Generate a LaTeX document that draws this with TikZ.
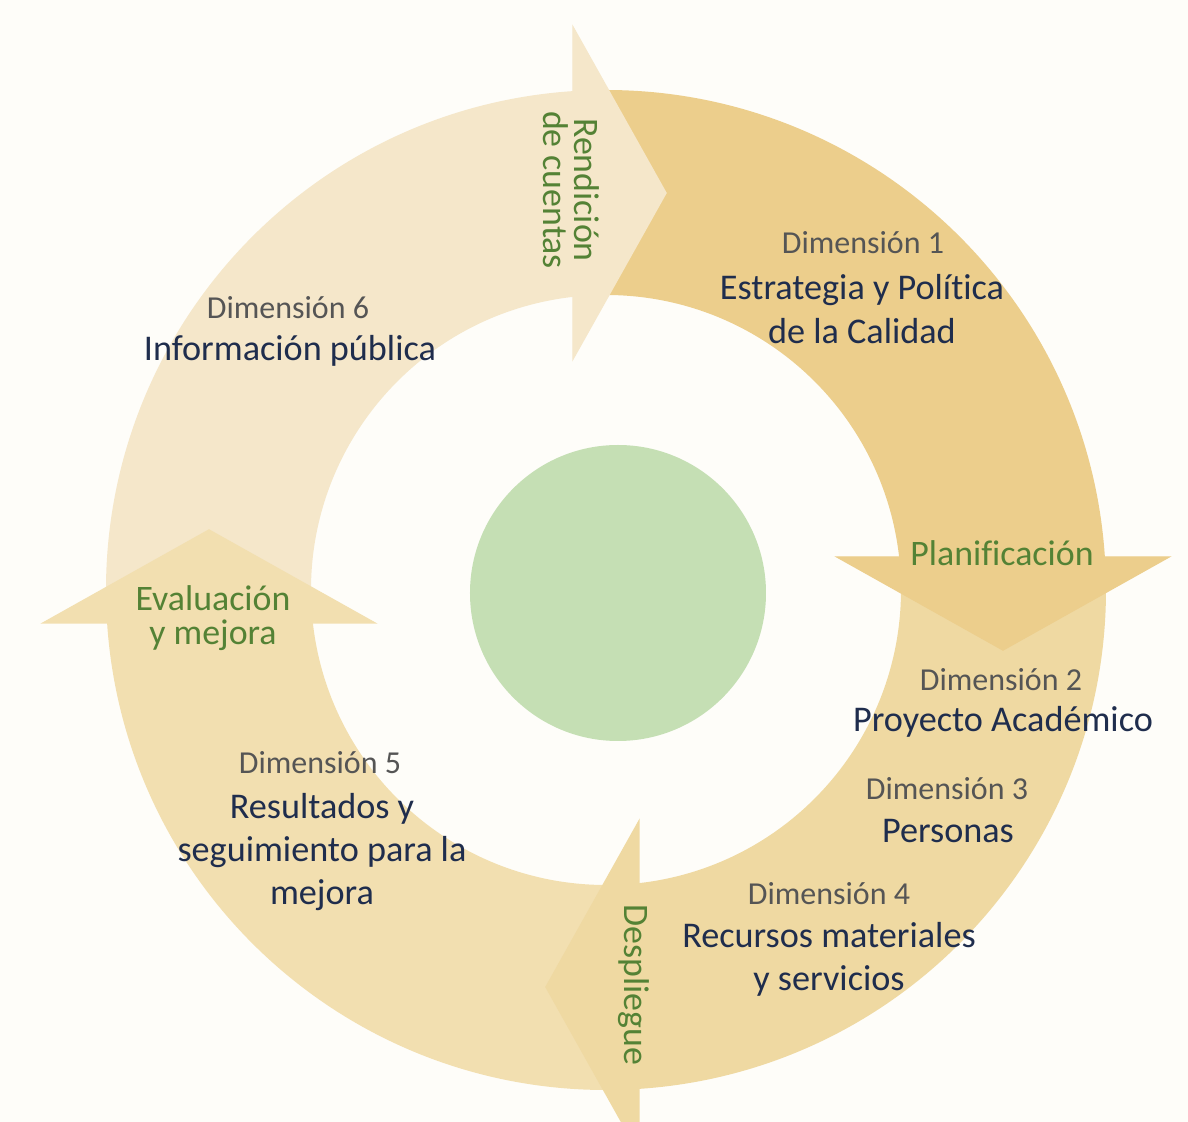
\documentclass[tikz,border=0pt]{standalone}
\usepackage{fontspec}
\setmainfont{Carlito}[Ligatures=NoCommon]
\usetikzlibrary{calc}

\definecolor{fondo}{HTML}{FEFDF9}
\definecolor{tramoA}{HTML}{F5E7CA}
\definecolor{tramoB}{HTML}{ECCE8C}
\definecolor{tramoC}{HTML}{EFD9A2}
\definecolor{tramoD}{HTML}{F2DFB0}
\definecolor{centro}{HTML}{C5DFB4}
\definecolor{azul}{HTML}{1F2D4D}
\definecolor{gris}{HTML}{555555}
\definecolor{verde}{HTML}{548235}

\tikzset{
	dim/.style={text=gris, inner sep=0pt, font=\fontsize{9.1}{11}\selectfont},
	titulo/.style={text=azul, inner sep=0pt, align=center, font=\fontsize{10.3}{12.3}\selectfont},
	fase/.style={text=verde, inner sep=0pt, align=center, font=\fontsize{10.2}{9.6}\selectfont},
	punta/.style={line width=0.4pt}
}

\begin{document}
\begin{tikzpicture}[x=0.1mm, y=0.1mm]
				\useasboundingbox (-606, -532) rectangle (582, 590);
				\fill[fondo] (-606, -532) rectangle (582, 590);
				
				\coordinate (A1) at (-33, 563);
				\coordinate (A2) at (60, 397);
				\coordinate (A3) at (-33, 231);
				\coordinate (B1) at (563, 33);
				\coordinate (B2) at (397, -60);
				\coordinate (B3) at (231, 33);
				\coordinate (C1) at (33, -563);
				\coordinate (C2) at (-60, -397);
				\coordinate (C3) at (33, -231);
				\coordinate (D1) at (-563, -33);
				\coordinate (D2) at (-397, 60);
				\coordinate (D3) at (-231, -33);
				
				\fill[tramoA] (180:500) arc[start angle=180, end angle=93.78, radius=500] -- (96.42:295) arc[start angle=96.42, end angle=180, radius=295] -- cycle;
				\fill[tramoB] (90:500) arc[start angle=90, end angle=3.78, radius=500] -- (6.42:295) arc[start angle=6.42, end angle=90, radius=295] -- cycle;
				\fill[tramoC] (0:500) arc[start angle=0, end angle=-86.22, radius=500] -- (-83.58:295) arc[start angle=-83.58, end angle=0, radius=295] -- cycle;
				\fill[tramoD] (-90:500) arc[start angle=-90, end angle=-176.22, radius=500] -- (-173.58:295) arc[start angle=-173.58, end angle=-90, radius=295] -- cycle;
				
				\filldraw[punta, tramoA] (A1) -- (A2) -- (A3) -- cycle;
				\filldraw[punta, tramoB] (B1) -- (B2) -- (B3) -- cycle;
				\filldraw[punta, tramoC] (C1) -- (C2) -- (C3) -- cycle;
				\filldraw[punta, tramoD] (D1) -- (D2) -- (D3) -- cycle;
				
				\fill[centro] (12, -3) circle (148);
				
				\node[fase, rotate=-90, font=\fontsize{10.2}{8.9}\selectfont] (rendicion) at (-35, 400) {Rendición\\de cuentas};
				\node[fase] (planificacion) at (396, 37) {Planificación};
				\node[fase, rotate=-90] (despliegue) at (28, -395) {Despliegue};
				\node[fase] (evaluacion) at (-393, -28) {Evaluación\\y mejora};
				
				\node[dim] (dim1) at (257, 347) {Dimensión 1};
				\node[titulo] (tit1) at (256, 281) {Estrategia y Política\\de la Calidad};
				\node[dim] (dim2) at (395, -90) {Dimensión 2};
				\node[titulo] (tit2) at (397, -132) {Proyecto Académico};
				\node[dim] (dim3) at (341, -199) {Dimensión 3};
				\node[titulo] (tit3) at (342, -241) {Personas};
				\node[dim] (dim4) at (223, -304) {Dimensión 4};
				\node[titulo] (tit4) at (223, -369) {Recursos materiales\\y servicios};
				\node[dim] (dim5) at (-286, -173) {Dimensión 5};
				\node[titulo] (tit5) at (-284, -262) {Resultados y\\seguimiento para la\\mejora};
				\node[dim] (dim6) at (-318, 282) {Dimensión 6};
				\node[titulo] (tit6) at (-316, 239) {Información pública};
			\end{tikzpicture}
\end{document}
